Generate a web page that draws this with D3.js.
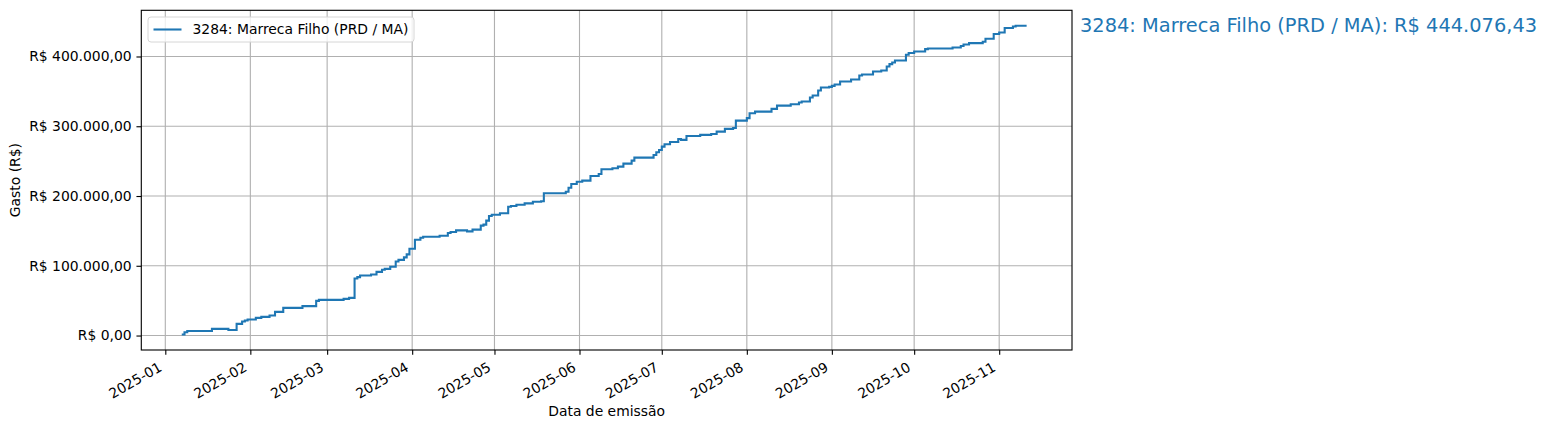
<!DOCTYPE html>
<html>
<head>
<meta charset="utf-8">
<script src="https://cdn.jsdelivr.net/npm/d3@7"></script>
<style>
  body { margin: 0; background: #fff; }
  text { font-family: "DejaVu Sans", sans-serif; fill: #000; }
</style>
</head>
<body>
<div id="chart"></div>
<script>
// cumulative spending of one deputy
const serie = "3284: Marreca Filho (PRD / MA)";

const datas = ["2025-01-07","2025-01-08","2025-01-09","2025-01-18","2025-01-24","2025-01-27","2025-01-29","2025-01-30","2025-01-31",
  "2025-02-03","2025-02-05","2025-02-08","2025-02-10","2025-02-13","2025-02-20","2025-02-25","2025-02-26",
  "2025-03-07","2025-03-09","2025-03-11","2025-03-12","2025-03-13","2025-03-17","2025-03-19","2025-03-21","2025-03-22","2025-03-24","2025-03-26","2025-03-27","2025-03-29","2025-03-30","2025-03-31",
  "2025-04-02","2025-04-04","2025-04-05","2025-04-11","2025-04-14","2025-04-15","2025-04-17","2025-04-21","2025-04-23","2025-04-26","2025-04-27","2025-04-28","2025-04-29","2025-04-30",
  "2025-05-03","2025-05-06","2025-05-07","2025-05-09","2025-05-12","2025-05-15","2025-05-18","2025-05-19","2025-05-27","2025-05-28","2025-05-29","2025-05-31",
  "2025-06-02","2025-06-05","2025-06-08","2025-06-09","2025-06-13","2025-06-15","2025-06-17","2025-06-20","2025-06-21","2025-06-28","2025-06-29","2025-06-30",
  "2025-07-01","2025-07-02","2025-07-04","2025-07-07","2025-07-08","2025-07-10","2025-07-15","2025-07-19","2025-07-21","2025-07-24","2025-07-27","2025-07-28",
  "2025-08-01","2025-08-02","2025-08-04","2025-08-10","2025-08-12","2025-08-17","2025-08-20","2025-08-21","2025-08-24","2025-08-25","2025-08-27","2025-08-28","2025-08-31",
  "2025-09-01","2025-09-02","2025-09-04","2025-09-08","2025-09-11","2025-09-12","2025-09-16","2025-09-19","2025-09-21","2025-09-22","2025-09-23","2025-09-24","2025-09-28","2025-09-29",
  "2025-10-01","2025-10-05","2025-10-06","2025-10-15","2025-10-18","2025-10-19","2025-10-21","2025-10-26","2025-10-27","2025-10-30",
  "2025-11-01","2025-11-03","2025-11-06","2025-11-07","2025-11-11"];

const gasto = [1400,4700,6600,9500,8000,16700,20000,21500,23000,
  25300,26700,28700,33900,39600,42100,49700,51100,
  52500,54000,81800,83700,86100,87500,91300,94200,95600,98500,106200,108500,112000,116300,124400,
  137300,140100,141600,143000,146900,148300,150700,149300,151800,157500,159000,164700,171300,173200,
  175200,184600,185600,187500,189500,191800,192500,203900,206200,211900,217200,220500,
  222000,228700,231600,238300,239800,242100,246400,250700,255000,258900,262700,266000,
  270800,274200,277500,281800,280500,286100,287600,289000,292300,296200,297600,308100,
  311600,318700,321000,324900,329600,331600,334000,335400,341100,344000,351200,355500,356500,
  357900,359800,364100,367000,372700,374200,378500,379900,385600,389000,391400,394300,402400,404900,
  407200,410600,411500,413000,415000,417200,419200,421100,425400,432200,
  434500,440800,443000,444076.43,444076.43];

const yTicks = [0, 100000, 200000, 300000, 400000];
const mesesTicks = ["2025-01","2025-02","2025-03","2025-04","2025-05","2025-06","2025-07","2025-08","2025-09","2025-10","2025-11"];
// visible date range of the x axis
const xLimites = ["2024-12-23T06:00", "2025-11-27T13:00"];

const parseDia = d3.timeParse("%Y-%m-%d");
const parseMes = d3.timeParse("%Y-%m");
const parseHora = d3.timeParse("%Y-%m-%dT%H:%M");
const data = datas.map((d, i) => ({date: parseDia(d), valor: gasto[i]}));

// brazilian money format
const br = d3.formatLocale({decimal: ",", thousands: ".", grouping: [3], currency: ["R$ ", ""]});
const reais = br.format("$,.2f");

const W = 1548, H = 430;
const margin = {top: 10.3, right: 476, bottom: 80, left: 141.3};
const width = W - margin.left - margin.right;
const height = H - margin.top - margin.bottom;
const blue = "#1f77b4";
const pt = 100 / 72; // matplotlib points -> px

const svg = d3.select("#chart").append("svg")
  .attr("width", W).attr("height", H);
const g = svg.append("g").attr("transform", `translate(${margin.left},${margin.top})`);

const x = d3.scaleTime()
  .domain(xLimites.map(parseHora))
  .range([0, width]);
// matplotlib-like 5% margin on y
const yExt = d3.extent(data, d => d.valor);
const yPad = (yExt[1] - yExt[0]) * 0.05;
const y = d3.scaleLinear()
  .domain([yExt[0] - yPad, yExt[1] + yPad])
  .range([height, 0]);

const xTickVals = mesesTicks.map(parseMes);

// grid
g.append("g").selectAll("line").data(xTickVals).join("line")
  .attr("x1", d => x(d)).attr("x2", d => x(d))
  .attr("y1", 0).attr("y2", height)
  .attr("stroke", "#b0b0b0").attr("stroke-width", 0.8 * pt);
g.append("g").selectAll("line").data(yTicks).join("line")
  .attr("x1", 0).attr("x2", width)
  .attr("y1", d => y(d)).attr("y2", d => y(d))
  .attr("stroke", "#b0b0b0").attr("stroke-width", 0.8 * pt);

// the step line
g.append("path")
  .datum(data)
  .attr("fill", "none")
  .attr("stroke", blue)
  .attr("stroke-width", 1.5 * pt)
  .attr("d", d3.line().curve(d3.curveStepAfter)
    .x(d => x(d.date))
    .y(d => y(d.valor)));

// axes
const xAxis = g.append("g")
  .attr("transform", `translate(0,${height})`)
  .call(d3.axisBottom(x).tickValues(xTickVals).tickFormat(d3.timeFormat("%Y-%m")).tickSize(3.5 * pt).tickPadding(3.5 * pt));
xAxis.selectAll("text")
  .attr("font-size", "13.9px")
  .attr("text-anchor", "end")
  .attr("dy", null)
  .attr("y", 0)
  .attr("transform", "translate(-3,20) rotate(-30)");

const yAxis = g.append("g")
  .call(d3.axisLeft(y).tickValues(yTicks).tickFormat(reais).tickSize(3.5 * pt).tickPadding(3.5 * pt));
yAxis.selectAll("text").attr("font-size", "13.9px");

[xAxis, yAxis].forEach(a => {
  a.select(".domain").remove();
  a.selectAll(".tick line").attr("stroke", "#000").attr("stroke-width", 0.8 * pt);
});

// frame
g.append("rect")
  .attr("width", width).attr("height", height)
  .attr("fill", "none").attr("stroke", "#000").attr("stroke-width", 0.8 * pt);

// labels
svg.append("text")
  .attr("x", margin.left + width / 2).attr("y", 416)
  .attr("text-anchor", "middle")
  .attr("font-size", "13.9px")
  .text("Data de emissão");

svg.append("text")
  .attr("transform", `translate(20,${margin.top + height / 2}) rotate(-90)`)
  .attr("text-anchor", "middle")
  .attr("font-size", "13.9px")
  .text("Gasto (R$)");

// legend
const leg = svg.append("g").attr("transform", "translate(148,17)");
leg.append("rect")
  .attr("width", 266).attr("height", 25).attr("rx", 3)
  .attr("fill", "#fff").attr("fill-opacity", 0.8)
  .attr("stroke", "#d6d6d6").attr("stroke-width", 1);
leg.append("line")
  .attr("x1", 5.5).attr("x2", 33.5).attr("y1", 12.5).attr("y2", 12.5)
  .attr("stroke", blue).attr("stroke-width", 1.5 * pt);
leg.append("text")
  .attr("x", 44.5).attr("y", 12.5).attr("dy", "0.35em")
  .attr("font-size", "13.9px")
  .text(serie);

// final value label, right of the axes
const ultimo = data[data.length - 1];
svg.append("text")
  .attr("x", 1080).attr("y", 31.5)
  .attr("font-size", "19.4px")
  .style("fill", blue)
  .text(`${serie}: ${reais(ultimo.valor)}`);
</script>
</body>
</html>
